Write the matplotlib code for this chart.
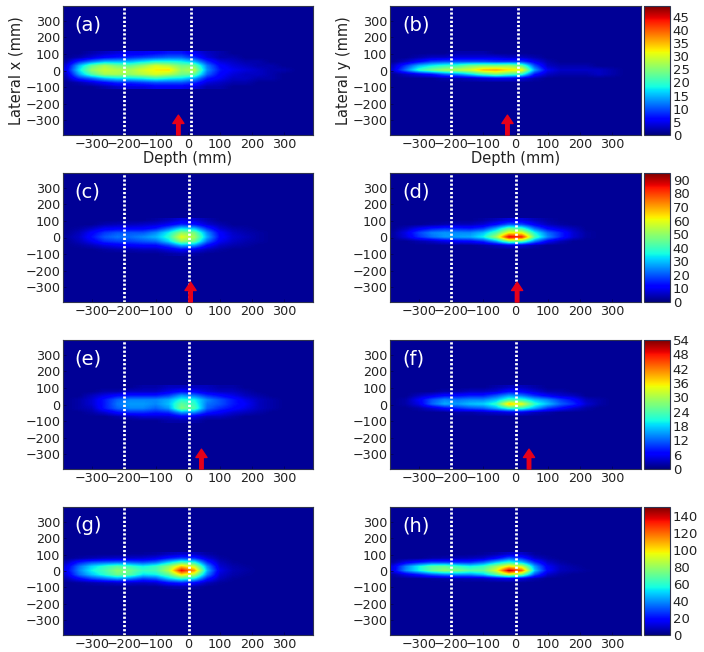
import numpy as np
from matplotlib import pyplot as plt

# cell centres: depth -380..380 in 40 mm steps, lateral 100..-100 in 25 mm steps
depth_edges = (-400, 400)
lateral_edges = (-112.5, 112.5)

panel_a = [
    [1, 1, 2, 3, 4, 5, 5, 6, 7, 7, 5, 3, 2, 1, 1, 1, 1, 1, 1, 1],
    [1, 2, 4, 6, 7, 8, 9, 10, 11, 11, 8, 4, 2, 2, 1, 1, 1, 1, 1, 1],
    [2, 8, 12, 15, 15, 15, 17, 19, 19, 18, 15, 8, 4, 3, 2, 2, 1, 1, 1, 1],
    [4, 15, 23, 27, 24, 23, 26, 30, 28, 24, 24, 12, 6, 4, 3, 2, 2, 1, 1, 1],
    [5, 17, 26, 29, 28, 27, 30, 32, 33, 26, 28, 13, 7, 5, 4, 3, 2, 2, 1, 1],
    [3, 14, 22, 27, 27, 26, 28, 30, 28, 24, 23, 11, 6, 4, 3, 3, 2, 1, 1, 1],
    [2, 8, 11, 15, 17, 17, 18, 20, 18, 17, 14, 7, 5, 3, 3, 2, 2, 1, 1, 1],
    [1, 2, 4, 6, 8, 8, 9, 10, 10, 10, 8, 4, 3, 2, 2, 1, 1, 1, 1, 1],
    [1, 1, 1, 2, 3, 4, 4, 5, 5, 5, 4, 2, 2, 1, 1, 1, 1, 1, 1, 1],
]
panel_b = [
    [0, 0, 1, 1, 1, 2, 2, 2, 1, 1, 1, 1, 1, 1, 1, 1, 1, 1, 0, 0],
    [0, 1, 2, 3, 3, 4, 4, 4, 4, 3, 3, 2, 1, 1, 1, 1, 1, 1, 1, 1],
    [1, 3, 6, 9, 10, 10, 10, 10, 9, 9, 9, 5, 2, 1, 1, 1, 1, 1, 1, 1],
    [3, 9, 15, 18, 20, 21, 24, 25, 25, 26, 23, 10, 3, 2, 2, 2, 1, 1, 1, 1],
    [4, 12, 20, 24, 27, 28, 30, 35, 36, 33, 32, 14, 5, 3, 3, 3, 3, 2, 1, 1],
    [1, 3, 5, 7, 11, 13, 17, 22, 25, 22, 20, 7, 3, 2, 2, 2, 3, 2, 1, 1],
    [0, 1, 1, 1, 2, 2, 3, 4, 5, 5, 4, 2, 1, 1, 1, 1, 1, 1, 1, 0],
    [0, 0, 1, 1, 1, 1, 1, 1, 1, 1, 1, 1, 1, 1, 1, 1, 1, 1, 0, 0],
    [0, 0, 0, 1, 1, 1, 1, 1, 1, 1, 1, 1, 1, 1, 1, 1, 0, 0, 0, 0],
]
panel_c = [
    [0, 1, 1, 1, 2, 2, 2, 3, 5, 8, 7, 4, 2, 1, 1, 1, 1, 0, 0, 0],
    [1, 1, 2, 4, 5, 5, 6, 7, 10, 15, 13, 7, 4, 2, 2, 1, 1, 1, 0, 0],
    [1, 3, 6, 10, 11, 11, 11, 14, 22, 33, 30, 16, 7, 4, 3, 2, 1, 1, 1, 0],
    [2, 5, 11, 17, 20, 20, 20, 25, 35, 50, 47, 25, 11, 6, 4, 3, 2, 1, 1, 1],
    [3, 6, 13, 20, 23, 22, 25, 29, 38, 60, 52, 28, 12, 7, 5, 3, 2, 1, 1, 1],
    [2, 5, 10, 16, 18, 18, 20, 22, 32, 50, 45, 22, 10, 6, 4, 3, 2, 1, 1, 1],
    [1, 3, 5, 8, 10, 11, 12, 12, 18, 28, 26, 12, 6, 4, 3, 2, 1, 1, 1, 0],
    [1, 1, 2, 3, 4, 4, 5, 5, 8, 11, 9, 5, 3, 2, 1, 1, 1, 0, 0, 0],
    [0, 0, 1, 1, 1, 2, 2, 2, 3, 4, 3, 2, 1, 1, 0, 0, 0, 0, 0, 0],
]
panel_d = [
    [0, 0, 1, 1, 1, 2, 2, 3, 5, 8, 8, 5, 3, 2, 1, 1, 0, 0, 0, 0],
    [1, 1, 2, 3, 4, 5, 5, 7, 12, 20, 18, 10, 5, 3, 2, 1, 1, 0, 0, 0],
    [2, 5, 10, 14, 16, 15, 14, 17, 28, 45, 40, 22, 12, 8, 5, 2, 1, 1, 0, 0],
    [3, 9, 18, 24, 26, 25, 25, 30, 42, 62, 60, 36, 22, 15, 7, 3, 2, 1, 1, 0],
    [3, 8, 16, 22, 26, 27, 28, 35, 52, 88, 84, 42, 25, 15, 7, 3, 2, 1, 1, 1],
    [1, 2, 4, 6, 9, 11, 12, 16, 28, 48, 45, 24, 11, 5, 2, 1, 1, 1, 0, 0],
    [0, 1, 1, 1, 2, 2, 2, 3, 5, 8, 7, 4, 2, 1, 1, 0, 0, 0, 0, 0],
    [0, 0, 0, 1, 1, 1, 1, 1, 1, 2, 2, 1, 1, 1, 0, 0, 0, 0, 0, 0],
    [0, 0, 0, 0, 0, 1, 1, 1, 1, 1, 1, 1, 1, 0, 0, 0, 0, 0, 0, 0],
]
panel_e = [
    [0, 0, 1, 1, 1, 1, 2, 2, 3, 3, 3, 3, 2, 2, 1, 1, 1, 0, 0, 0],
    [0, 1, 1, 2, 2, 3, 3, 3, 5, 7, 6, 4, 3, 3, 2, 1, 1, 1, 0, 0],
    [1, 1, 3, 5, 7, 8, 8, 8, 10, 15, 13, 9, 7, 5, 3, 2, 1, 1, 1, 0],
    [1, 2, 4, 8, 12, 14, 14, 14, 16, 21, 20, 14, 11, 8, 5, 3, 2, 1, 1, 0],
    [1, 2, 4, 8, 13, 15, 15, 14, 17, 25, 22, 13, 11, 8, 6, 3, 2, 1, 1, 0],
    [1, 2, 3, 8, 12, 14, 14, 12, 15, 27, 24, 12, 9, 7, 5, 3, 2, 1, 1, 0],
    [0, 1, 2, 4, 7, 9, 9, 8, 9, 15, 14, 8, 6, 4, 3, 2, 1, 1, 0, 0],
    [0, 1, 1, 1, 2, 3, 4, 4, 4, 6, 5, 3, 3, 2, 1, 1, 1, 0, 0, 0],
    [0, 0, 0, 1, 1, 1, 1, 1, 2, 2, 2, 1, 1, 1, 1, 0, 0, 0, 0, 0],
]
panel_f = [
    [0, 0, 0, 1, 1, 1, 1, 1, 2, 3, 3, 2, 1, 1, 1, 0, 0, 0, 0, 0],
    [0, 0, 1, 1, 2, 2, 3, 3, 4, 7, 6, 4, 2, 2, 1, 1, 0, 0, 0, 0],
    [0, 1, 3, 5, 7, 7, 8, 8, 11, 15, 13, 9, 6, 4, 3, 1, 1, 0, 0, 0],
    [1, 2, 6, 11, 14, 13, 14, 14, 17, 23, 22, 17, 14, 10, 7, 3, 2, 1, 1, 0],
    [1, 2, 5, 12, 16, 15, 17, 18, 22, 38, 34, 22, 17, 12, 9, 4, 2, 1, 1, 1],
    [0, 1, 2, 4, 7, 9, 11, 12, 16, 22, 22, 16, 10, 7, 4, 2, 1, 1, 1, 1],
    [0, 0, 0, 1, 1, 2, 2, 3, 4, 5, 5, 3, 2, 1, 1, 0, 0, 0, 0, 0],
    [0, 0, 0, 0, 0, 1, 1, 1, 1, 1, 1, 1, 1, 0, 0, 0, 0, 0, 0, 0],
    [0, 0, 0, 0, 0, 0, 0, 1, 1, 1, 1, 1, 0, 0, 0, 0, 0, 0, 0, 0],
]
panel_g = [
    [0, 1, 1, 2, 3, 4, 4, 5, 8, 10, 9, 5, 2, 1, 1, 1, 1, 0, 0, 0],
    [2, 5, 7, 9, 10, 10, 11, 14, 22, 28, 25, 12, 5, 3, 2, 1, 1, 1, 0, 0],
    [8, 22, 30, 33, 35, 33, 30, 35, 50, 65, 58, 25, 8, 4, 3, 2, 1, 1, 1, 0],
    [14, 35, 50, 60, 68, 62, 55, 62, 78, 105, 90, 40, 11, 6, 4, 3, 2, 1, 1, 1],
    [16, 38, 55, 65, 78, 72, 62, 65, 85, 135, 112, 46, 14, 7, 5, 3, 2, 1, 1, 1],
    [12, 34, 48, 60, 72, 68, 52, 55, 70, 100, 85, 38, 11, 6, 4, 3, 2, 1, 1, 1],
    [7, 18, 28, 35, 42, 37, 28, 32, 48, 60, 52, 22, 8, 4, 3, 2, 1, 1, 1, 0],
    [2, 4, 6, 8, 10, 10, 9, 11, 20, 24, 18, 8, 4, 3, 2, 1, 1, 1, 0, 0],
    [0, 1, 1, 1, 2, 3, 3, 3, 5, 6, 5, 3, 2, 1, 1, 1, 0, 0, 0, 0],
]
panel_h = [
    [0, 1, 1, 1, 2, 2, 3, 4, 6, 10, 10, 4, 2, 1, 1, 1, 0, 0, 0, 0],
    [1, 2, 3, 5, 6, 7, 8, 10, 18, 32, 25, 10, 5, 3, 2, 1, 1, 1, 0, 0],
    [5, 15, 22, 28, 28, 25, 25, 33, 48, 60, 48, 25, 10, 5, 3, 2, 1, 1, 1, 0],
    [14, 38, 55, 68, 70, 62, 55, 62, 80, 100, 90, 42, 16, 8, 5, 3, 2, 1, 1, 1],
    [15, 40, 55, 70, 78, 75, 68, 70, 92, 142, 120, 48, 18, 8, 6, 4, 3, 2, 1, 1],
    [5, 14, 22, 32, 38, 40, 40, 48, 68, 90, 75, 30, 10, 5, 3, 3, 3, 2, 1, 1],
    [1, 2, 3, 4, 5, 6, 7, 8, 12, 15, 12, 6, 2, 1, 1, 1, 1, 1, 0, 0],
    [0, 0, 1, 1, 1, 1, 1, 1, 2, 3, 2, 1, 1, 1, 1, 1, 0, 0, 0, 0],
    [0, 0, 0, 0, 1, 1, 1, 1, 1, 1, 1, 1, 1, 0, 0, 0, 0, 0, 0, 0],
]

panels = [panel_a, panel_b, panel_c, panel_d, panel_e, panel_f, panel_g, panel_h]
panel_labels = ["(a)", "(b)", "(c)", "(d)", "(e)", "(f)", "(g)", "(h)"]
row_vmax = [49, 95, 54, 150]
row_cbar_ticks = [
    list(range(0, 46, 5)),
    list(range(0, 91, 10)),
    list(range(0, 55, 6)),
    list(range(0, 141, 20)),
]
axis_ticks = [-300, -200, -100, 0, 100, 200, 300]
tick_names = ["\u2212300", "\u2212200", "\u2212100", "0", "100", "200", "300"]
window_start = [-200] * 8
window_end = [8, 8, 3, 3, 3, 3, 3, 3]
arrow_depth = [-30, -25, 8, 5, 42, 42, None, None]

W, H = 704, 652
col_px = [(63, 313), (390, 641)]
row_px = [(6, 135), (173, 302), (340, 469), (507, 635)]
cbar_px = (644, 670)
BACKGROUND = 0.02  # share of the colour range where there are no counts


def px_axes(fig, x0, x1, y0, y1):
    return fig.add_axes([x0 / W, 1 - y1 / H, (x1 - x0) / W, (y1 - y0) / H])


plt.rcParams["font.family"] = "DejaVu Sans"
fig = plt.figure(figsize=(W / 100, H / 100), dpi=100)

for i, grid in enumerate(panels):
    row, col = i // 2, i % 2
    ax = px_axes(fig, *col_px[col], *row_px[row])
    vmax = row_vmax[row]
    ax.set_facecolor(plt.get_cmap("jet")(BACKGROUND))
    im = ax.imshow(
        np.maximum(np.array(grid, dtype=float), BACKGROUND * vmax),
        cmap="jet",
        vmin=0,
        vmax=vmax,
        extent=(*depth_edges, *lateral_edges),
        aspect="auto",
        interpolation="bilinear",
    )
    ax.set_xlim(-390, 390)
    ax.set_ylim(-390, 390)
    ax.set_xticks(axis_ticks)
    ax.set_xticklabels(tick_names)
    ax.set_yticks(axis_ticks)
    ax.set_yticklabels(tick_names)
    ax.tick_params(direction="in", length=2, width=0.5, color="#000050", labelsize=9.2, labelcolor="#222222", pad=2)
    for spine in ax.spines.values():
        spine.set_color("#30344f")
        spine.set_linewidth(0.8)

    ax.axvline(window_start[i], color="white", linestyle=(0, (0.8, 0.7)), linewidth=2)
    ax.axvline(window_end[i], color="white", linestyle=(0, (0.8, 0.7)), linewidth=2)

    if arrow_depth[i] is not None:
        ax.annotate(
            "",
            xy=(arrow_depth[i], -270),
            xytext=(arrow_depth[i], -390),
            arrowprops=dict(facecolor="#e6001a", edgecolor="#e6001a", width=2.5, headwidth=8, headlength=6, shrink=0),
            annotation_clip=False,
        )

    ax.text(-353, 275, panel_labels[i], color="white", fontsize=14, va="center", ha="left")

    if row == 0:
        ax.set_xlabel("Depth (mm)", fontsize=10.5, color="#222222", labelpad=0)
        ax.set_ylabel("Lateral x (mm)" if col == 0 else "Lateral y (mm)", fontsize=10.5, color="#222222", labelpad=1)

    if col == 1:
        cax = px_axes(fig, *cbar_px, *row_px[row])
        cbar = fig.colorbar(im, cax=cax, ticks=row_cbar_ticks[row])
        cbar.ax.tick_params(direction="in", length=0, labelsize=9.5, labelcolor="#222222", pad=2)
        cbar.outline.set_edgecolor("#30344f")
        cbar.outline.set_linewidth(0.8)

fig.savefig("out.png", dpi=100)
plt.close(fig)
